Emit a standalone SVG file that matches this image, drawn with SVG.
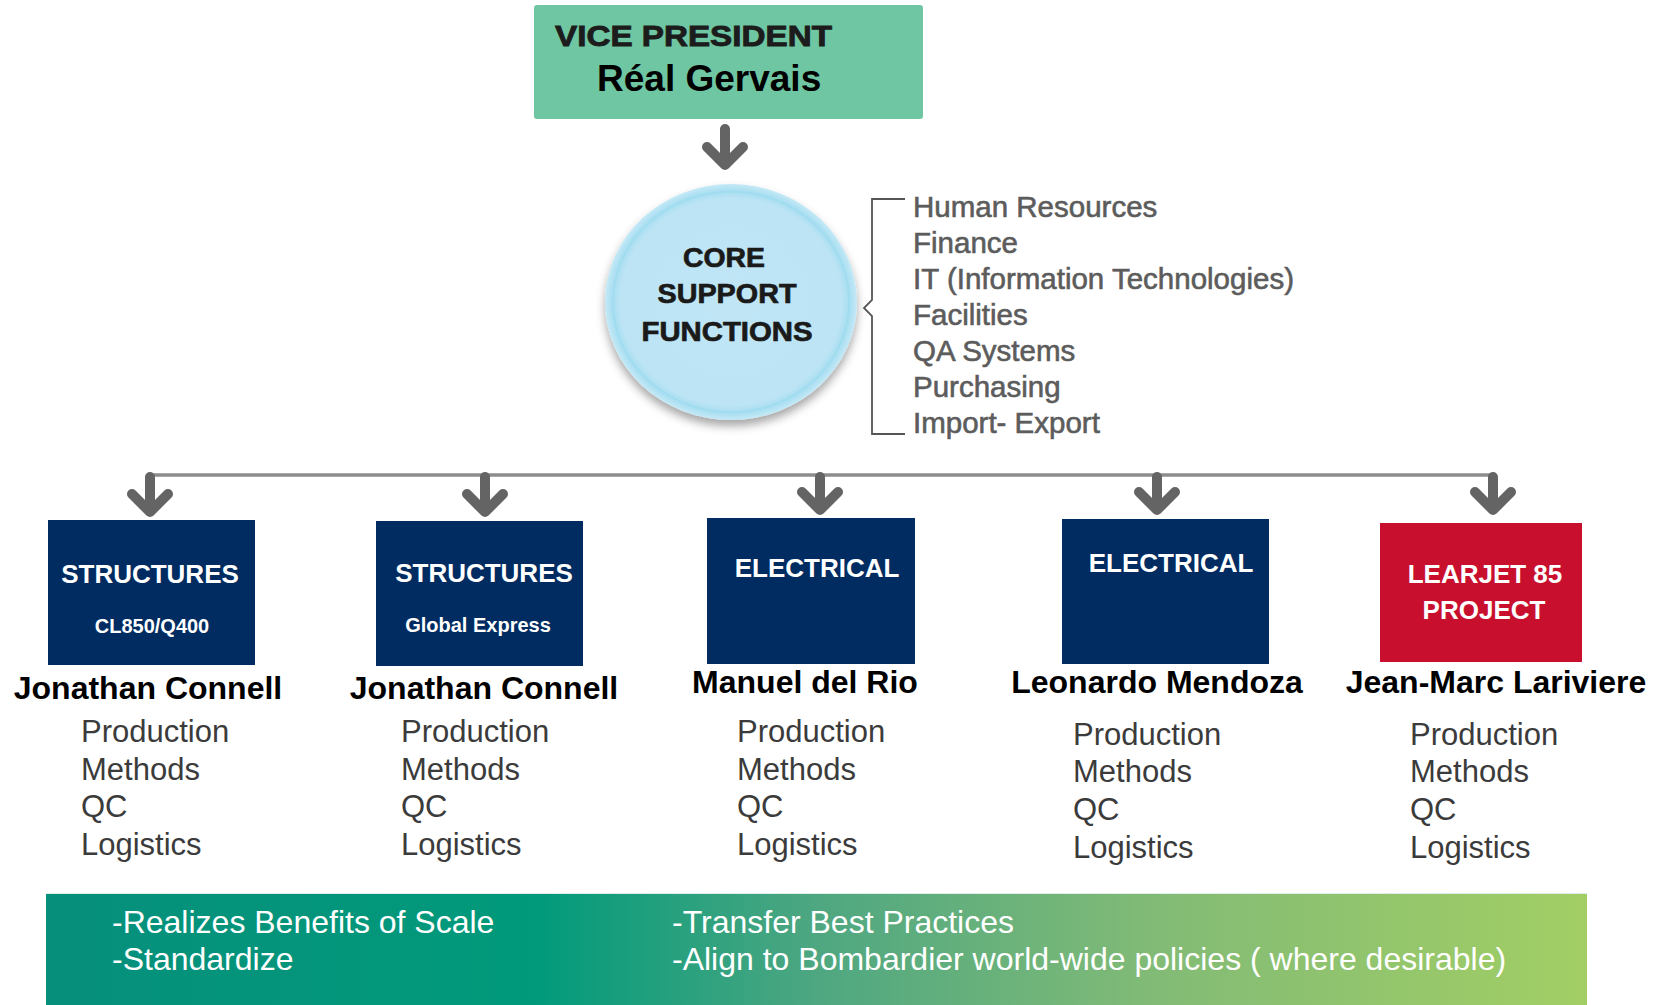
<svg xmlns="http://www.w3.org/2000/svg" width="1664" height="1005" viewBox="0 0 1664 1005">
<defs>
<style>
.hdr{font-family:"Liberation Sans",Arial,sans-serif;font-weight:bold;fill:#1c1c1c}
.core{font-family:"Liberation Sans",Arial,sans-serif;font-weight:bold;font-size:27px;fill:#1a1a1a;stroke:#1a1a1a;stroke-width:0.7;text-anchor:middle}
.sup{font-family:"Liberation Sans",Arial,sans-serif;font-size:29.5px;fill:#5c5c5c;stroke:#5c5c5c;stroke-width:0.6}
.box-navy{fill:#002c61}
.box-red{fill:#c8102e}
.btxt{font-family:"Liberation Sans",Arial,sans-serif;font-weight:bold;fill:#ffffff;text-anchor:middle}
.name{font-family:"Liberation Sans",Arial,sans-serif;font-weight:bold;font-size:32px;fill:#000000;text-anchor:middle}
.item{font-family:"Liberation Sans",Arial,sans-serif;font-size:31px;fill:#3b3b3b}
.ban{font-family:"Liberation Sans",Arial,sans-serif;font-size:32px;fill:#ffffff}
.arrow{fill:none;stroke:#646464;stroke-width:10;stroke-linecap:round;stroke-linejoin:round}
</style>
<linearGradient id="banGrad" x1="0" y1="0" x2="1" y2="0">
<stop offset="0" stop-color="#068f7b"/>
<stop offset="0.32" stop-color="#019a7b"/>
<stop offset="0.5" stop-color="#4ea781"/>
<stop offset="0.72" stop-color="#82bb76"/>
<stop offset="1" stop-color="#a2ce64"/>
</linearGradient>
<radialGradient id="circGrad" cx="0.5" cy="0.5" r="0.5">
<stop offset="0" stop-color="#c0e6f6"/>
<stop offset="0.88" stop-color="#bce4f4"/>
<stop offset="0.94" stop-color="#a6def1"/>
<stop offset="1" stop-color="#c6e9f6"/>
</radialGradient>
<filter id="shadow" x="-20%" y="-20%" width="140%" height="150%">
<feDropShadow dx="0" dy="6" stdDeviation="5" flood-color="#000000" flood-opacity="0.35"/>
</filter>
</defs>
<rect width="1664" height="1005" fill="#ffffff"/>

<g id="connectors">
<path class="arrow" d="M725 129 V163 M707 147 L725 165 L743 147"/>
<path d="M150 475 H1493" fill="none" stroke="#8c8c8c" stroke-width="3.5"/>
<path class="arrow" d="M150 477 V510 M132 494 L150 512 L168 494"/>
<path class="arrow" d="M485 477 V510 M467 494 L485 512 L503 494"/>
<path class="arrow" d="M820 477 V508 M802 492 L820 510 L838 492"/>
<path class="arrow" d="M1157 477 V508 M1139 492 L1157 510 L1175 492"/>
<path class="arrow" d="M1493 477 V508 M1475 492 L1493 510 L1511 492"/>
</g>

<g id="vp">
<rect x="534" y="5" width="389" height="114" rx="3" fill="#6fc6a2"/>
<text class="hdr" x="555" y="46" font-size="30" stroke="#1c1c1c" stroke-width="0.9" textLength="277" lengthAdjust="spacingAndGlyphs">VICE PRESIDENT</text>
<text class="hdr" x="597" y="91" font-size="37" style="fill:#000">Réal Gervais</text>
</g>

<g id="core">
<ellipse cx="731" cy="302" rx="126" ry="118" fill="url(#circGrad)" filter="url(#shadow)"/>
<ellipse cx="731" cy="302" rx="118" ry="110" fill="none" stroke="#9bdaee" stroke-width="1.5" opacity="0.6"/>
<text class="core" x="724" y="267" textLength="82" lengthAdjust="spacingAndGlyphs">CORE</text>
<text class="core" x="727" y="303" textLength="139" lengthAdjust="spacingAndGlyphs">SUPPORT</text>
<text class="core" x="727" y="341" textLength="171" lengthAdjust="spacingAndGlyphs">FUNCTIONS</text>
</g>

<g id="support-list">
<path d="M905 199 H872 V300 L864 308 L872 316 V434 H905" fill="none" stroke="#555555" stroke-width="1.8"/>
<text class="sup" x="913" y="217">Human Resources</text>
<text class="sup" x="913" y="253">Finance</text>
<text class="sup" x="913" y="289">IT (Information Technologies)</text>
<text class="sup" x="913" y="325">Facilities</text>
<text class="sup" x="913" y="361">QA Systems</text>
<text class="sup" x="913" y="397">Purchasing</text>
<text class="sup" x="913" y="433">Import- Export</text>
</g>

<g id="structures-cl850">
<rect class="box-navy" x="48" y="520" width="207" height="145"/>
<text class="btxt" x="150" y="583" font-size="26">STRUCTURES</text>
<text class="btxt" x="152" y="633" font-size="20">CL850/Q400</text>
<text class="name" x="148" y="699">Jonathan Connell</text>
<text class="item" x="81" y="742">Production</text>
<text class="item" x="81" y="780">Methods</text>
<text class="item" x="81" y="817">QC</text>
<text class="item" x="81" y="855">Logistics</text>
</g>

<g id="structures-global">
<rect class="box-navy" x="376" y="521" width="207" height="145"/>
<text class="btxt" x="484" y="582" font-size="26">STRUCTURES</text>
<text class="btxt" x="478" y="632" font-size="20">Global Express</text>
<text class="name" x="484" y="699">Jonathan Connell</text>
<text class="item" x="401" y="742">Production</text>
<text class="item" x="401" y="780">Methods</text>
<text class="item" x="401" y="817">QC</text>
<text class="item" x="401" y="855">Logistics</text>
</g>

<g id="electrical-rio">
<rect class="box-navy" x="707" y="518" width="208" height="146"/>
<text class="btxt" x="817" y="577" font-size="26">ELECTRICAL</text>
<text class="name" x="805" y="693">Manuel del Rio</text>
<text class="item" x="737" y="742">Production</text>
<text class="item" x="737" y="780">Methods</text>
<text class="item" x="737" y="817">QC</text>
<text class="item" x="737" y="855">Logistics</text>
</g>

<g id="electrical-mendoza">
<rect class="box-navy" x="1062" y="519" width="207" height="145"/>
<text class="btxt" x="1171" y="572" font-size="26">ELECTRICAL</text>
<text class="name" x="1157" y="693">Leonardo Mendoza</text>
<text class="item" x="1073" y="745">Production</text>
<text class="item" x="1073" y="782">Methods</text>
<text class="item" x="1073" y="820">QC</text>
<text class="item" x="1073" y="858">Logistics</text>
</g>

<g id="learjet">
<rect class="box-red" x="1380" y="523" width="202" height="139"/>
<text class="btxt" x="1485" y="583" font-size="26">LEARJET 85</text>
<text class="btxt" x="1484" y="619" font-size="26">PROJECT</text>
<text class="name" x="1496" y="693">Jean-Marc Lariviere</text>
<text class="item" x="1410" y="745">Production</text>
<text class="item" x="1410" y="782">Methods</text>
<text class="item" x="1410" y="820">QC</text>
<text class="item" x="1410" y="858">Logistics</text>
</g>

<g id="banner">
<rect x="46" y="893" width="1541" height="112" fill="url(#banGrad)"/>
<line x1="46" y1="893.5" x2="1587" y2="893.5" stroke="#dfeee8" stroke-width="1"/>
<text class="ban" x="112" y="933">-Realizes Benefits of Scale</text>
<text class="ban" x="112" y="970">-Standardize</text>
<text class="ban" x="672" y="933">-Transfer Best Practices</text>
<text class="ban" x="672" y="970">-Align to Bombardier world-wide policies ( where desirable)</text>
</g>
</svg>
